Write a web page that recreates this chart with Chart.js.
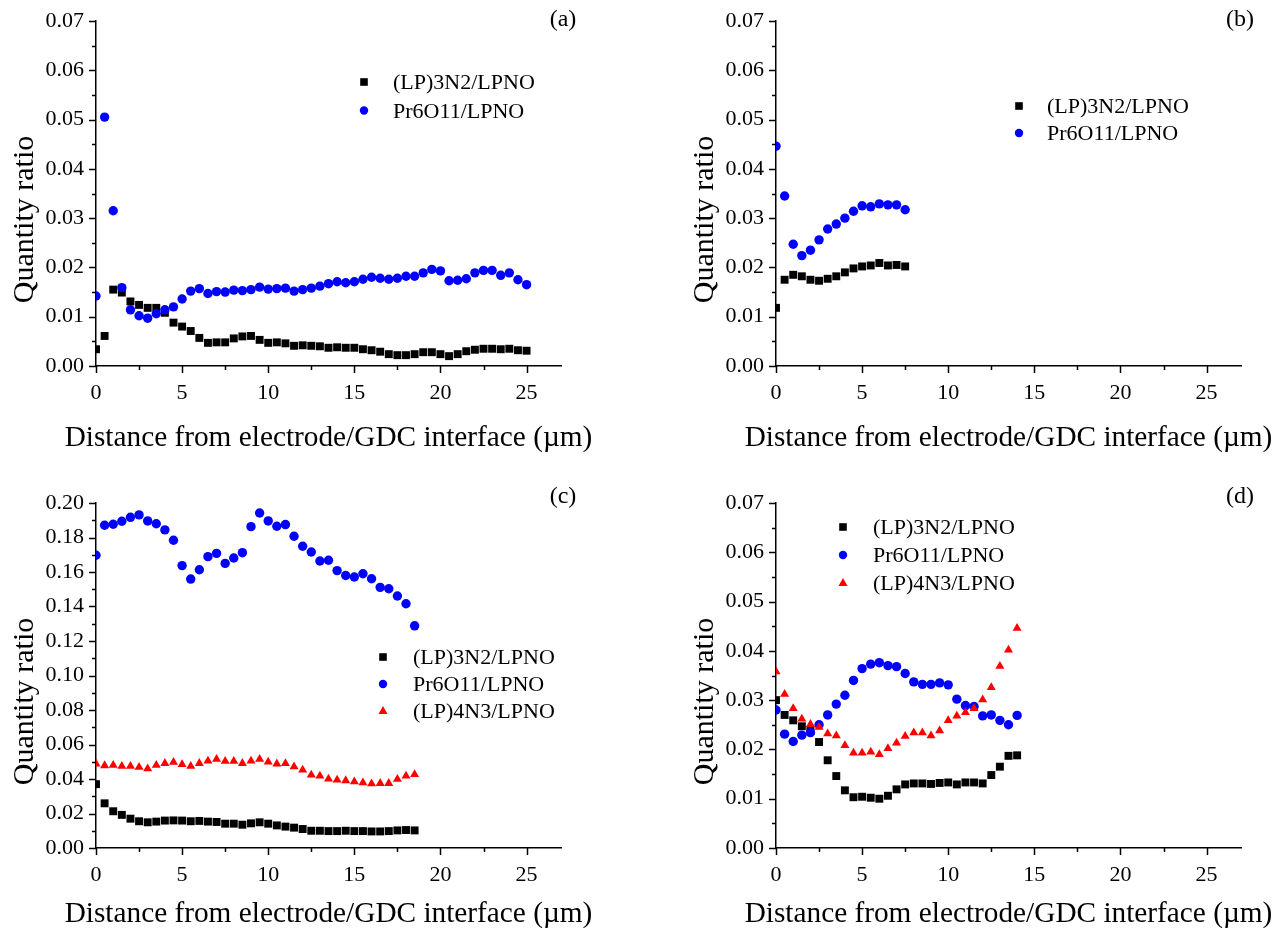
<!DOCTYPE html>
<html>
<head>
<meta charset="utf-8">
<script src="https://cdn.jsdelivr.net/npm/chart.js@4.4.1/dist/chart.umd.min.js"></script>
<style>
  body { margin: 0; width: 1283px; height: 928px; overflow: hidden; background: #fff; position: relative; }
  canvas { position: absolute; }
</style>
</head>
<body>
<canvas id="chartA" width="600" height="460" style="left:0;top:0"></canvas>
<canvas id="chartB" width="600" height="460" style="left:680px;top:0"></canvas>
<canvas id="chartC" width="600" height="460" style="left:0;top:482px"></canvas>
<canvas id="chartD" width="600" height="460" style="left:680px;top:482px"></canvas>
<script>
// Distances (µm)
const distA = [0, 0.5, 1, 1.5, 2, 2.5, 3, 3.5, 4, 4.5, 5, 5.5, 6, 6.5, 7, 7.5, 8, 8.5, 9, 9.5, 10, 10.5, 11, 11.5, 12, 12.5,
  13, 13.5, 14, 14.5, 15, 15.5, 16, 16.5, 17, 17.5, 18, 18.5, 19, 19.5, 20, 20.5, 21, 21.5, 22, 22.5, 23, 23.5, 24, 24.5, 25];
const distB = [0, 0.5, 1, 1.5, 2, 2.5, 3, 3.5, 4, 4.5, 5, 5.5, 6, 6.5, 7, 7.5];
const distC = [0, 0.5, 1, 1.5, 2, 2.5, 3, 3.5, 4, 4.5, 5, 5.5, 6, 6.5, 7, 7.5, 8, 8.5, 9, 9.5, 10, 10.5, 11, 11.5, 12, 12.5,
  13, 13.5, 14, 14.5, 15, 15.5, 16, 16.5, 17, 17.5, 18, 18.5];
const distD = [0, 0.5, 1, 1.5, 2, 2.5, 3, 3.5, 4, 4.5, 5, 5.5, 6, 6.5, 7, 7.5, 8, 8.5, 9, 9.5, 10, 10.5, 11, 11.5, 12, 12.5,
  13, 13.5, 14];

// Panel (a)
const lp3n2A = [0.0034, 0.0061, 0.0155, 0.0149, 0.0131, 0.0124, 0.0118, 0.0118, 0.0108, 0.0088, 0.0080, 0.0071, 0.0057,
  0.0047, 0.0048, 0.0048, 0.0056, 0.0060, 0.0061, 0.0053, 0.0047, 0.0048, 0.0046, 0.0041, 0.0042, 0.0041, 0.0040, 0.0037,
  0.0038, 0.0037, 0.0037, 0.0034, 0.0032, 0.0029, 0.0024, 0.0022, 0.0022, 0.0024, 0.0028, 0.0028, 0.0024, 0.0020, 0.0024,
  0.0030, 0.0033, 0.0035, 0.0035, 0.0034, 0.0035, 0.0032, 0.0031];
const pr6o11A = [0.0142, 0.0505, 0.0315, 0.0159, 0.0114, 0.0102, 0.0097, 0.0106, 0.0114, 0.0120, 0.0136, 0.0152, 0.0157,
  0.0147, 0.0151, 0.0150, 0.0154, 0.0153, 0.0155, 0.0160, 0.0156, 0.0157, 0.0158, 0.0152, 0.0155, 0.0158, 0.0162, 0.0167,
  0.0171, 0.0169, 0.0171, 0.0176, 0.0180, 0.0178, 0.0176, 0.0178, 0.0182, 0.0182, 0.0189, 0.0196, 0.0193, 0.0173, 0.0174,
  0.0177, 0.0189, 0.0194, 0.0194, 0.0184, 0.0189, 0.0175, 0.0165];

// Panel (b)
const lp3n2B = [0.0118, 0.0175, 0.0185, 0.0182, 0.0175, 0.0173, 0.0177, 0.0182, 0.0190, 0.0198, 0.0202, 0.0204, 0.0209,
  0.0204, 0.0205, 0.0202];
const pr6o11B = [0.0446, 0.0345, 0.0247, 0.0224, 0.0235, 0.0256, 0.0278, 0.0288, 0.0300, 0.0314, 0.0325, 0.0323, 0.0329,
  0.0327, 0.0327, 0.0317];

// Panel (c)
const lp3n2C = [0.0370, 0.0259, 0.0213, 0.0192, 0.0170, 0.0155, 0.0149, 0.0153, 0.0159, 0.0160, 0.0159, 0.0155, 0.0157,
  0.0153, 0.0151, 0.0141, 0.0141, 0.0135, 0.0143, 0.0149, 0.0141, 0.0131, 0.0124, 0.0118, 0.0110, 0.0100, 0.0100, 0.0098,
  0.0098, 0.0100, 0.0098, 0.0098, 0.0096, 0.0096, 0.0098, 0.0102, 0.0104, 0.0102];
const pr6o11C = [0.1697, 0.1871, 0.1877, 0.1894, 0.1917, 0.1931, 0.1896, 0.1880, 0.1844, 0.1784, 0.1637, 0.1559, 0.1613,
  0.1689, 0.1708, 0.1650, 0.1681, 0.1712, 0.1863, 0.1942, 0.1896, 0.1865, 0.1875, 0.1807, 0.1749, 0.1716, 0.1664, 0.1668,
  0.1608, 0.1580, 0.1571, 0.1590, 0.1561, 0.1511, 0.1503, 0.1461, 0.1416, 0.1288];
const lp4n3C = [0.0488, 0.0478, 0.0480, 0.0474, 0.0474, 0.0468, 0.0460, 0.0480, 0.0491, 0.0497, 0.0484, 0.0474, 0.0491,
  0.0505, 0.0515, 0.0503, 0.0503, 0.0491, 0.0505, 0.0515, 0.0499, 0.0488, 0.0490, 0.0472, 0.0453, 0.0424, 0.0418, 0.0400,
  0.0395, 0.0391, 0.0385, 0.0379, 0.0373, 0.0375, 0.0375, 0.0399, 0.0418, 0.0426];

// Panel (d)
const lp3n2D = [0.0300, 0.0270, 0.0259, 0.0247, 0.0240, 0.0215, 0.0178, 0.0146, 0.0117, 0.0103, 0.0104, 0.0102, 0.0100,
  0.0106, 0.0119, 0.0129, 0.0131, 0.0131, 0.0130, 0.0132, 0.0133, 0.0129, 0.0133, 0.0133, 0.0131, 0.0148, 0.0165, 0.0187,
  0.0188];
const pr6o11D = [0.0280, 0.0231, 0.0216, 0.0229, 0.0234, 0.0250, 0.0270, 0.0292, 0.0310, 0.0340, 0.0364, 0.0373, 0.0376,
  0.0370, 0.0368, 0.0354, 0.0337, 0.0332, 0.0332, 0.0335, 0.0331, 0.0302, 0.0289, 0.0287, 0.0268, 0.0270, 0.0259, 0.0250,
  0.0269];
const lp4n3D = [0.0358, 0.0312, 0.0283, 0.0262, 0.0251, 0.0245, 0.0232, 0.0228, 0.0208, 0.0193, 0.0193, 0.0195, 0.0190,
  0.0202, 0.0213, 0.0227, 0.0234, 0.0234, 0.0228, 0.0238, 0.0259, 0.0268, 0.0275, 0.0283, 0.0301, 0.0326, 0.0369, 0.0402,
  0.0446];

const FONT = "'Liberation Serif', 'Times New Roman', Times, serif";
const X_TITLE = "Distance from electrode/GDC interface (\u00b5m)";
const Y_TITLE = "Quantity ratio";

const STYLE = {
  lp3n2: { label: "(LP)3N2/LPNO", color: "#000000", shape: "rect", radius: 5.6, order: 3 },
  pr6o11: { label: "Pr6O11/LPNO", color: "#0000ff", shape: "circle", radius: 4.7, order: 2 },
  lp4n3: { label: "(LP)4N3/LPNO", color: "#ff0000", shape: "triangle", radius: 5.2, order: 1 }
};

function drawMarker(ctx, shape, x, y, color) {
  ctx.fillStyle = color;
  ctx.beginPath();
  if (shape === "rect") {
    ctx.rect(x - 3.8, y - 3.8, 7.6, 7.6);
  } else if (shape === "circle") {
    ctx.arc(x, y, 4.2, 0, Math.PI * 2);
  } else {
    ctx.moveTo(x, y - 5);
    ctx.lineTo(x + 4.5, y + 3);
    ctx.lineTo(x - 4.5, y + 3);
    ctx.closePath();
  }
  ctx.fill();
}

// Minor/major tick marks, axis titles, panel tag and legend
const decor = {
  id: "decor",
  afterDraw(chart, args, opts) {
    const ctx = chart.ctx;
    const area = chart.chartArea;
    const xs = chart.scales.x, ys = chart.scales.y;
    ctx.save();
    ctx.strokeStyle = "#000";
    ctx.lineWidth = 1.5;
    ctx.beginPath();
    xs.ticks.forEach((t) => {
      const px = Math.round(xs.getPixelForValue(t.value)) + 0.5;
      const len = t.label !== "" ? 7 : 4;
      ctx.moveTo(px, area.bottom);
      ctx.lineTo(px, area.bottom + len);
    });
    ys.ticks.forEach((t) => {
      const py = Math.round(ys.getPixelForValue(t.value)) + 0.5;
      const len = t.label !== "" ? 7 : 4;
      ctx.moveTo(area.left, py);
      ctx.lineTo(area.left - len, py);
    });
    ctx.stroke();

    ctx.fillStyle = "#000";
    ctx.textAlign = "center";
    ctx.textBaseline = "alphabetic";
    ctx.font = "29.3px " + FONT;
    ctx.fillText(X_TITLE, (area.left + area.right) / 2, opts.xTitleY);

    ctx.save();
    ctx.translate(33, (area.top + area.bottom) / 2 + 26);
    ctx.rotate(-Math.PI / 2);
    ctx.font = "30px " + FONT;
    ctx.fillText(Y_TITLE, 0, 0);
    ctx.restore();

    ctx.font = "24px " + FONT;
    ctx.textBaseline = "middle";
    ctx.fillText(opts.tag, opts.tagX, opts.tagY);

    ctx.textAlign = "left";
    ctx.textBaseline = "alphabetic";
    ctx.font = "22px " + FONT;
    opts.keys.forEach((k, i) => {
      const s = STYLE[k];
      const y = opts.legY + i * opts.legDy;
      drawMarker(ctx, s.shape, opts.legX, y, s.color);
      ctx.fillStyle = "#000";
      ctx.fillText(s.label, opts.legTextX, y + 7);
    });
    ctx.restore();
  }
};

function makeChart(id, dist, series, yMax, yStep, yMajor, decorOpts) {
  const datasets = series.map(([key, values]) => {
    const s = STYLE[key];
    return {
      label: s.label,
      data: dist.map((d, i) => ({ x: d, y: values[i] })),
      pointStyle: s.shape,
      pointRadius: s.radius,
      pointHoverRadius: s.radius,
      backgroundColor: s.color,
      borderColor: s.color,
      borderWidth: 0,
      order: s.order,
      clip: 0
    };
  });
  decorOpts.keys = series.map((s) => s[0]);
  new Chart(document.getElementById(id), {
    type: "scatter",
    data: { datasets },
    options: {
      responsive: false,
      animation: false,
      events: [],
      layout: { padding: { top: 21, right: 39, left: 0, bottom: 0 } },
      plugins: { legend: { display: false }, tooltip: { enabled: false }, decor: decorOpts },
      scales: {
        x: {
          type: "linear", min: 0, max: 27,
          border: { color: "#000", width: 1.5 },
          grid: { display: false },
          ticks: {
            stepSize: 2.5, includeBounds: false, autoSkip: false, maxRotation: 0, padding: 6,
            color: "#000", font: { family: FONT, size: 22 },
            callback: (v) => (v % 5 === 0 ? String(v) : "")
          },
          afterFit: (s) => { s.height = 94; }
        },
        y: {
          type: "linear", min: 0, max: yMax,
          border: { color: "#000", width: 1.5 },
          grid: { display: false },
          ticks: {
            stepSize: yStep, autoSkip: false, padding: 4,
            color: "#000", font: { family: FONT, size: 22 },
            callback: (v) => {
              const k = Math.round(v / yStep);
              return k % yMajor === 0 ? (k * yStep).toFixed(2) : "";
            }
          },
          afterFit: (s) => { s.width = 96; }
        }
      }
    },
    plugins: [decor]
  });
}

makeChart("chartA", distA, [["lp3n2", lp3n2A], ["pr6o11", pr6o11A]], 0.07, 0.005, 2,
  { tag: "(a)", tagX: 563, tagY: 20, xTitleY: 446, legX: 364, legY: 82, legDy: 28.5, legTextX: 393 });
makeChart("chartB", distB, [["lp3n2", lp3n2B], ["pr6o11", pr6o11B]], 0.07, 0.005, 2,
  { tag: "(b)", tagX: 560, tagY: 20, xTitleY: 446, legX: 339, legY: 106, legDy: 27, legTextX: 367 });
makeChart("chartC", distC, [["lp3n2", lp3n2C], ["pr6o11", pr6o11C], ["lp4n3", lp4n3C]], 0.2, 0.01, 2,
  { tag: "(c)", tagX: 563, tagY: 15, xTitleY: 440, legX: 383, legY: 175, legDy: 27, legTextX: 413 });
makeChart("chartD", distD, [["lp3n2", lp3n2D], ["pr6o11", pr6o11D], ["lp4n3", lp4n3D]], 0.07, 0.005, 2,
  { tag: "(d)", tagX: 560, tagY: 15, xTitleY: 440, legX: 163, legY: 45, legDy: 28, legTextX: 193 });
</script>
</body>
</html>
